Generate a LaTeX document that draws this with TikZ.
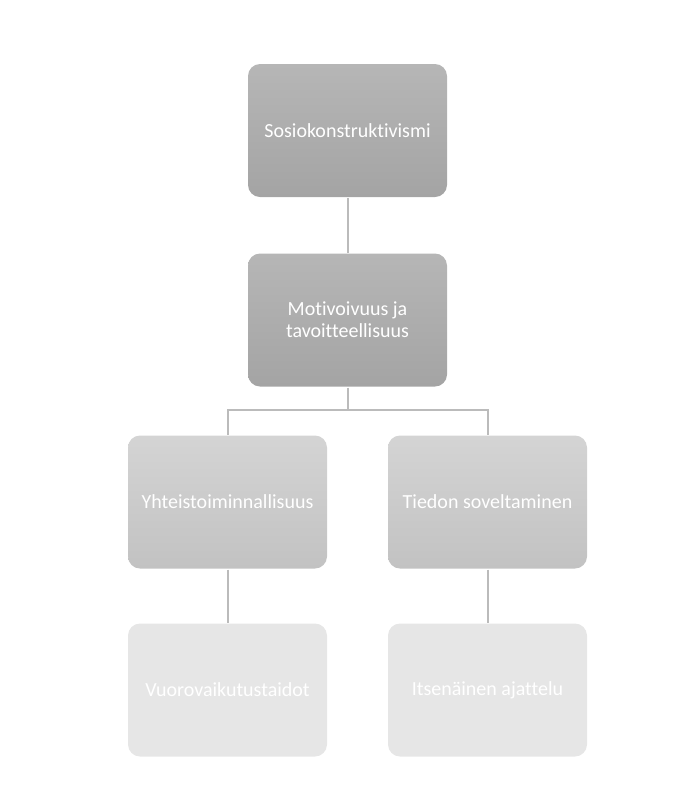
\documentclass[tikz,border=0pt]{standalone}
\usepackage{fontspec}
\setmainfont{Carlito}[Ligatures=NoCommon]
\usetikzlibrary{positioning,calc}
\definecolor{darkTop}{HTML}{B6B6B6}
\definecolor{darkBot}{HTML}{A4A4A4}
\definecolor{midTop}{HTML}{D4D4D4}
\definecolor{midBot}{HTML}{C2C2C2}
\definecolor{lightBox}{HTML}{E6E6E6}
\definecolor{lineColor}{HTML}{BBBBBB}
\tikzset{level box/.style={rounded corners=12pt, minimum width=199pt, minimum height=133pt,
		inner sep=4pt, align=center, text=white, font=\fontsize{20}{22}\selectfont}}
\tikzset{level one/.style={level box, top color=darkTop, bottom color=darkBot}}
\tikzset{level two/.style={level box, top color=midTop, bottom color=midBot}}
\tikzset{level three/.style={level box, fill=lightBox}}
\begin{document}
\begin{tikzpicture}[x=1pt, y=-1pt, line width=2pt]
	\useasboundingbox (0,0) rectangle (698,796);
	\node[level one] at (347.5,130.5) (sosio) {Sosiokonstruktivismi};
	\node[level one] at (347.5,320) (moti) {Motivoivuus ja\\tavoitteellisuus};
	\node[level two] at (227.5,502) (yht) {Yhteistoiminnallisuus};
	\node[level two] at (487.5,502) (tied) {Tiedon soveltaminen};
	\node[level three] at (227.5,690) (vuoro) {Vuorovaikutustaidot};
	\node[level three] at (487.5,690) (itse) {Itsenäinen ajattelu};
	\coordinate (fork) at (347.5,410);
	\draw[lineColor] (sosio) -- (moti);
	\draw[lineColor] (moti) -- (fork) -| (yht);
	\draw[lineColor] (fork) -| (tied);
	\draw[lineColor] (yht) -- (vuoro);
	\draw[lineColor] (tied) -- (itse);
\end{tikzpicture}
\end{document}
